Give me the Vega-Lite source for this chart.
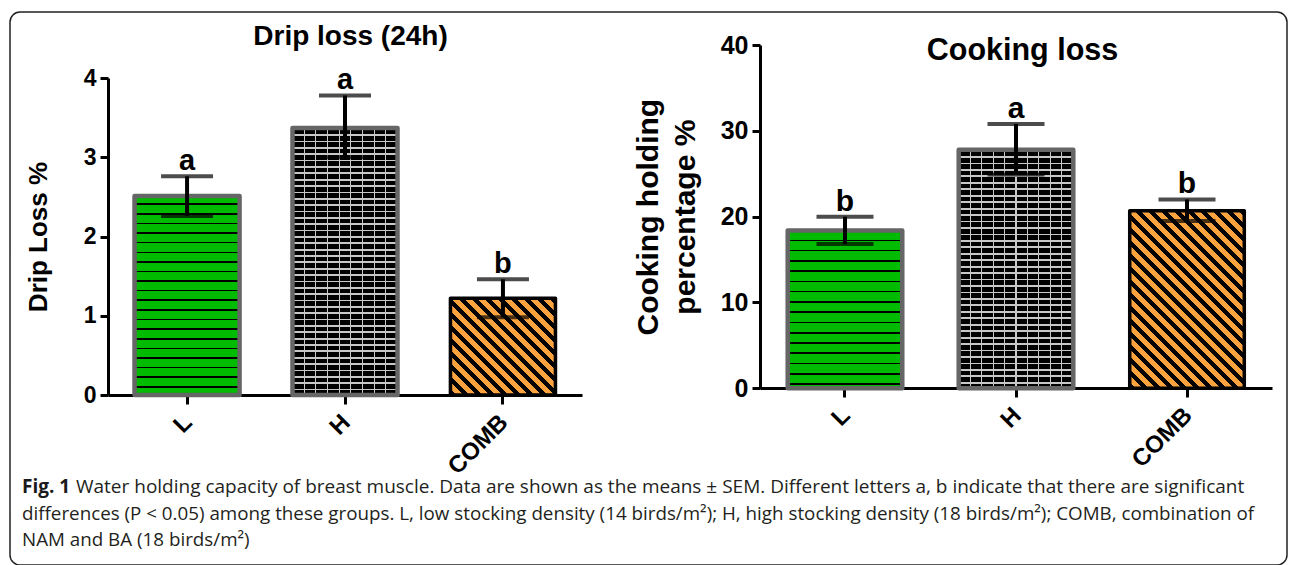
{
  "$schema": "https://vega.github.io/schema/vega-lite/v6.json",
  "width": 1277,
  "height": 553,
  "autosize": {"type": "none"},
  "padding": {"left": 10, "top": 12, "right": 3, "bottom": 0},
  "background": "white",
  "config": {
    "view": {"stroke": "#222", "strokeWidth": 1.5, "cornerRadius": 10},
    "font": "Liberation Sans",
    "axis": {"labelFont": "Liberation Sans", "titleFont": "Liberation Sans", "minExtent": 0}
  },
  "datasets": {
    "drip": [
      {"group": "L", "mean": 2.51, "lower": 2.26, "upper": 2.76, "letter": "a"},
      {"group": "H", "mean": 3.37, "lower": 3.0, "upper": 3.78, "letter": "a"},
      {"group": "COMB", "mean": 1.22, "lower": 0.98, "upper": 1.46, "letter": "b"}
    ],
    "cooking": [
      {"group": "L", "mean": 18.4, "lower": 16.8, "upper": 20.0, "letter": "b"},
      {"group": "H", "mean": 27.8, "lower": 24.9, "upper": 30.8, "letter": "a"},
      {"group": "COMB", "mean": 20.7, "lower": 19.5, "upper": 22.0, "letter": "b"}
    ],
    "caption": [
      {"line": 1, "text": "Water holding capacity of breast muscle. Data are shown as the means ± SEM. Different letters a, b indicate that there are significant"},
      {"line": 2, "text": "differences (P < 0.05) among these groups. L, low stocking density (14 birds/m²); H, high stocking density (18 birds/m²); COMB, combination of"},
      {"line": 3, "text": "NAM and BA (18 birds/m²)"}
    ]
  },
  "resolve": {
    "scale": {"x": "independent", "y": "independent"},
    "axis": {"x": "independent", "y": "independent"}
  },
  "layer": [
    {
      "data": {"name": "drip"},
      "resolve": {"axis": {"x": "independent", "y": "independent"}},
      "layer": [
        {
          "mark": {"type": "bar", "strokeWidth": 0},
          "encoding": {
            "x": {
              "field": "group", "type": "nominal",
              "scale": {"domain": ["L", "H", "COMB"], "range": [98, 572], "paddingInner": 0.335, "paddingOuter": 0.168},
              "axis": {
                "orient": "bottom", "offset": -170, "title": null,
                "domainColor": "#000", "domainWidth": 3, "tickColor": "#000", "tickWidth": 3, "tickSize": 9,
                "labelAngle": -45, "labelAlign": "right", "labelBaseline": "top", "labelPadding": 6, "labelOffset": -7,
                "labelFontSize": 24, "labelFontWeight": "bold", "labelColor": "#000"
              }
            },
            "y": {
              "field": "mean", "type": "quantitative",
              "scale": {"domain": [0, 4], "range": [383, 66], "nice": false, "zero": true},
              "axis": {
                "orient": "left", "offset": -98, "values": [0, 1, 2, 3, 4], "grid": false,
                "domainColor": "#000", "domainWidth": 3, "tickColor": "#000", "tickWidth": 3, "tickSize": 8,
                "labelFontSize": 23, "labelFontWeight": "bold", "labelColor": "#000", "labelPadding": 4,
                "title": "Drip Loss %", "titleFontSize": 26, "titleFontWeight": "bold", "titleColor": "#000", "titlePadding": 32
              }
            },
            "fill": {
              "condition": [
                {"test": "datum.group === 'L'", "value": {"gradient": "linear", "x1": 1, "y1": 0, "x2": 1, "y2": 1, "stops": [
                  {"offset": 0, "color": "#00bb00"},
                  {"offset": 0.0372, "color": "#00bb00"}, {"offset": 0.0372, "color": "#000"}, {"offset": 0.0452, "color": "#000"}, {"offset": 0.0452, "color": "#00bb00"},
                  {"offset": 0.0855, "color": "#00bb00"}, {"offset": 0.0855, "color": "#000"}, {"offset": 0.0935, "color": "#000"}, {"offset": 0.0935, "color": "#00bb00"},
                  {"offset": 0.1338, "color": "#00bb00"}, {"offset": 0.1338, "color": "#000"}, {"offset": 0.1418, "color": "#000"}, {"offset": 0.1418, "color": "#00bb00"},
                  {"offset": 0.1820, "color": "#00bb00"}, {"offset": 0.1820, "color": "#000"}, {"offset": 0.1900, "color": "#000"}, {"offset": 0.1900, "color": "#00bb00"},
                  {"offset": 0.2303, "color": "#00bb00"}, {"offset": 0.2303, "color": "#000"}, {"offset": 0.2383, "color": "#000"}, {"offset": 0.2383, "color": "#00bb00"},
                  {"offset": 0.2786, "color": "#00bb00"}, {"offset": 0.2786, "color": "#000"}, {"offset": 0.2866, "color": "#000"}, {"offset": 0.2866, "color": "#00bb00"},
                  {"offset": 0.3268, "color": "#00bb00"}, {"offset": 0.3268, "color": "#000"}, {"offset": 0.3348, "color": "#000"}, {"offset": 0.3348, "color": "#00bb00"},
                  {"offset": 0.3751, "color": "#00bb00"}, {"offset": 0.3751, "color": "#000"}, {"offset": 0.3831, "color": "#000"}, {"offset": 0.3831, "color": "#00bb00"},
                  {"offset": 0.4234, "color": "#00bb00"}, {"offset": 0.4234, "color": "#000"}, {"offset": 0.4314, "color": "#000"}, {"offset": 0.4314, "color": "#00bb00"},
                  {"offset": 0.4716, "color": "#00bb00"}, {"offset": 0.4716, "color": "#000"}, {"offset": 0.4796, "color": "#000"}, {"offset": 0.4796, "color": "#00bb00"},
                  {"offset": 0.5199, "color": "#00bb00"}, {"offset": 0.5199, "color": "#000"}, {"offset": 0.5279, "color": "#000"}, {"offset": 0.5279, "color": "#00bb00"},
                  {"offset": 0.5682, "color": "#00bb00"}, {"offset": 0.5682, "color": "#000"}, {"offset": 0.5762, "color": "#000"}, {"offset": 0.5762, "color": "#00bb00"},
                  {"offset": 0.6164, "color": "#00bb00"}, {"offset": 0.6164, "color": "#000"}, {"offset": 0.6244, "color": "#000"}, {"offset": 0.6244, "color": "#00bb00"},
                  {"offset": 0.6647, "color": "#00bb00"}, {"offset": 0.6647, "color": "#000"}, {"offset": 0.6727, "color": "#000"}, {"offset": 0.6727, "color": "#00bb00"},
                  {"offset": 0.7130, "color": "#00bb00"}, {"offset": 0.7130, "color": "#000"}, {"offset": 0.7210, "color": "#000"}, {"offset": 0.7210, "color": "#00bb00"},
                  {"offset": 0.7613, "color": "#00bb00"}, {"offset": 0.7613, "color": "#000"}, {"offset": 0.7693, "color": "#000"}, {"offset": 0.7693, "color": "#00bb00"},
                  {"offset": 0.8095, "color": "#00bb00"}, {"offset": 0.8095, "color": "#000"}, {"offset": 0.8175, "color": "#000"}, {"offset": 0.8175, "color": "#00bb00"},
                  {"offset": 0.8578, "color": "#00bb00"}, {"offset": 0.8578, "color": "#000"}, {"offset": 0.8658, "color": "#000"}, {"offset": 0.8658, "color": "#00bb00"},
                  {"offset": 0.9061, "color": "#00bb00"}, {"offset": 0.9061, "color": "#000"}, {"offset": 0.9141, "color": "#000"}, {"offset": 0.9141, "color": "#00bb00"},
                  {"offset": 0.9543, "color": "#00bb00"}, {"offset": 0.9543, "color": "#000"}, {"offset": 0.9623, "color": "#000"}, {"offset": 0.9623, "color": "#00bb00"},
                  {"offset": 1, "color": "#00bb00"}
                ]}},
                {"test": "datum.group === 'H'", "value": {"gradient": "linear", "x1": 1, "y1": 0, "x2": 1, "y2": 1, "stops": [
                  {"offset": 0, "color": "#c8c8c8"}, {"offset": 0.0067, "color": "#c8c8c8"}, {"offset": 0.0067, "color": "#000"}, {"offset": 0.0238, "color": "#000"},
                  {"offset": 0.0238, "color": "#c8c8c8"}, {"offset": 0.0305, "color": "#c8c8c8"}, {"offset": 0.0305, "color": "#000"}, {"offset": 0.0476, "color": "#000"},
                  {"offset": 0.0476, "color": "#c8c8c8"}, {"offset": 0.0543, "color": "#c8c8c8"}, {"offset": 0.0543, "color": "#000"}, {"offset": 0.0714, "color": "#000"},
                  {"offset": 0.0714, "color": "#c8c8c8"}, {"offset": 0.0781, "color": "#c8c8c8"}, {"offset": 0.0781, "color": "#000"}, {"offset": 0.0952, "color": "#000"},
                  {"offset": 0.0952, "color": "#c8c8c8"}, {"offset": 0.1019, "color": "#c8c8c8"}, {"offset": 0.1019, "color": "#000"}, {"offset": 0.1190, "color": "#000"},
                  {"offset": 0.1190, "color": "#c8c8c8"}, {"offset": 0.1257, "color": "#c8c8c8"}, {"offset": 0.1257, "color": "#000"}, {"offset": 0.1429, "color": "#000"},
                  {"offset": 0.1429, "color": "#c8c8c8"}, {"offset": 0.1496, "color": "#c8c8c8"}, {"offset": 0.1496, "color": "#000"}, {"offset": 0.1667, "color": "#000"},
                  {"offset": 0.1667, "color": "#c8c8c8"}, {"offset": 0.1734, "color": "#c8c8c8"}, {"offset": 0.1734, "color": "#000"}, {"offset": 0.1905, "color": "#000"},
                  {"offset": 0.1905, "color": "#c8c8c8"}, {"offset": 0.1972, "color": "#c8c8c8"}, {"offset": 0.1972, "color": "#000"}, {"offset": 0.2143, "color": "#000"},
                  {"offset": 0.2143, "color": "#c8c8c8"}, {"offset": 0.2210, "color": "#c8c8c8"}, {"offset": 0.2210, "color": "#000"}, {"offset": 0.2381, "color": "#000"},
                  {"offset": 0.2381, "color": "#c8c8c8"}, {"offset": 0.2448, "color": "#c8c8c8"}, {"offset": 0.2448, "color": "#000"}, {"offset": 0.2619, "color": "#000"},
                  {"offset": 0.2619, "color": "#c8c8c8"}, {"offset": 0.2686, "color": "#c8c8c8"}, {"offset": 0.2686, "color": "#000"}, {"offset": 0.2857, "color": "#000"},
                  {"offset": 0.2857, "color": "#c8c8c8"}, {"offset": 0.2924, "color": "#c8c8c8"}, {"offset": 0.2924, "color": "#000"}, {"offset": 0.3095, "color": "#000"},
                  {"offset": 0.3095, "color": "#c8c8c8"}, {"offset": 0.3162, "color": "#c8c8c8"}, {"offset": 0.3162, "color": "#000"}, {"offset": 0.3333, "color": "#000"},
                  {"offset": 0.3333, "color": "#c8c8c8"}, {"offset": 0.3400, "color": "#c8c8c8"}, {"offset": 0.3400, "color": "#000"}, {"offset": 0.3571, "color": "#000"},
                  {"offset": 0.3571, "color": "#c8c8c8"}, {"offset": 0.3638, "color": "#c8c8c8"}, {"offset": 0.3638, "color": "#000"}, {"offset": 0.3810, "color": "#000"},
                  {"offset": 0.3810, "color": "#c8c8c8"}, {"offset": 0.3877, "color": "#c8c8c8"}, {"offset": 0.3877, "color": "#000"}, {"offset": 0.4048, "color": "#000"},
                  {"offset": 0.4048, "color": "#c8c8c8"}, {"offset": 0.4115, "color": "#c8c8c8"}, {"offset": 0.4115, "color": "#000"}, {"offset": 0.4286, "color": "#000"},
                  {"offset": 0.4286, "color": "#c8c8c8"}, {"offset": 0.4353, "color": "#c8c8c8"}, {"offset": 0.4353, "color": "#000"}, {"offset": 0.4524, "color": "#000"},
                  {"offset": 0.4524, "color": "#c8c8c8"}, {"offset": 0.4591, "color": "#c8c8c8"}, {"offset": 0.4591, "color": "#000"}, {"offset": 0.4762, "color": "#000"},
                  {"offset": 0.4762, "color": "#c8c8c8"}, {"offset": 0.4829, "color": "#c8c8c8"}, {"offset": 0.4829, "color": "#000"}, {"offset": 0.5000, "color": "#000"},
                  {"offset": 0.5000, "color": "#c8c8c8"}, {"offset": 0.5067, "color": "#c8c8c8"}, {"offset": 0.5067, "color": "#000"}, {"offset": 0.5238, "color": "#000"},
                  {"offset": 0.5238, "color": "#c8c8c8"}, {"offset": 0.5305, "color": "#c8c8c8"}, {"offset": 0.5305, "color": "#000"}, {"offset": 0.5476, "color": "#000"},
                  {"offset": 0.5476, "color": "#c8c8c8"}, {"offset": 0.5543, "color": "#c8c8c8"}, {"offset": 0.5543, "color": "#000"}, {"offset": 0.5714, "color": "#000"},
                  {"offset": 0.5714, "color": "#c8c8c8"}, {"offset": 0.5781, "color": "#c8c8c8"}, {"offset": 0.5781, "color": "#000"}, {"offset": 0.5952, "color": "#000"},
                  {"offset": 0.5952, "color": "#c8c8c8"}, {"offset": 0.6019, "color": "#c8c8c8"}, {"offset": 0.6019, "color": "#000"}, {"offset": 0.6190, "color": "#000"},
                  {"offset": 0.6190, "color": "#c8c8c8"}, {"offset": 0.6257, "color": "#c8c8c8"}, {"offset": 0.6257, "color": "#000"}, {"offset": 0.6429, "color": "#000"},
                  {"offset": 0.6429, "color": "#c8c8c8"}, {"offset": 0.6496, "color": "#c8c8c8"}, {"offset": 0.6496, "color": "#000"}, {"offset": 0.6667, "color": "#000"},
                  {"offset": 0.6667, "color": "#c8c8c8"}, {"offset": 0.6734, "color": "#c8c8c8"}, {"offset": 0.6734, "color": "#000"}, {"offset": 0.6905, "color": "#000"},
                  {"offset": 0.6905, "color": "#c8c8c8"}, {"offset": 0.6972, "color": "#c8c8c8"}, {"offset": 0.6972, "color": "#000"}, {"offset": 0.7143, "color": "#000"},
                  {"offset": 0.7143, "color": "#c8c8c8"}, {"offset": 0.7210, "color": "#c8c8c8"}, {"offset": 0.7210, "color": "#000"}, {"offset": 0.7381, "color": "#000"},
                  {"offset": 0.7381, "color": "#c8c8c8"}, {"offset": 0.7448, "color": "#c8c8c8"}, {"offset": 0.7448, "color": "#000"}, {"offset": 0.7619, "color": "#000"},
                  {"offset": 0.7619, "color": "#c8c8c8"}, {"offset": 0.7686, "color": "#c8c8c8"}, {"offset": 0.7686, "color": "#000"}, {"offset": 0.7857, "color": "#000"},
                  {"offset": 0.7857, "color": "#c8c8c8"}, {"offset": 0.7924, "color": "#c8c8c8"}, {"offset": 0.7924, "color": "#000"}, {"offset": 0.8095, "color": "#000"},
                  {"offset": 0.8095, "color": "#c8c8c8"}, {"offset": 0.8162, "color": "#c8c8c8"}, {"offset": 0.8162, "color": "#000"}, {"offset": 0.8333, "color": "#000"},
                  {"offset": 0.8333, "color": "#c8c8c8"}, {"offset": 0.8400, "color": "#c8c8c8"}, {"offset": 0.8400, "color": "#000"}, {"offset": 0.8571, "color": "#000"},
                  {"offset": 0.8571, "color": "#c8c8c8"}, {"offset": 0.8638, "color": "#c8c8c8"}, {"offset": 0.8638, "color": "#000"}, {"offset": 0.8810, "color": "#000"},
                  {"offset": 0.8810, "color": "#c8c8c8"}, {"offset": 0.8877, "color": "#c8c8c8"}, {"offset": 0.8877, "color": "#000"}, {"offset": 0.9048, "color": "#000"},
                  {"offset": 0.9048, "color": "#c8c8c8"}, {"offset": 0.9115, "color": "#c8c8c8"}, {"offset": 0.9115, "color": "#000"}, {"offset": 0.9286, "color": "#000"},
                  {"offset": 0.9286, "color": "#c8c8c8"}, {"offset": 0.9353, "color": "#c8c8c8"}, {"offset": 0.9353, "color": "#000"}, {"offset": 0.9524, "color": "#000"},
                  {"offset": 0.9524, "color": "#c8c8c8"}, {"offset": 0.9591, "color": "#c8c8c8"}, {"offset": 0.9591, "color": "#000"}, {"offset": 0.9762, "color": "#000"},
                  {"offset": 0.9762, "color": "#c8c8c8"}, {"offset": 0.9829, "color": "#c8c8c8"}, {"offset": 0.9829, "color": "#000"}, {"offset": 1, "color": "#000"}
                ]}}
              ],
              "value": {"gradient": "linear", "x1": 0, "y1": 1, "x2": 1.0396, "y2": 0.043, "stops": [
                {"offset": 0, "color": "#000"}, {"offset": 0.029, "color": "#000"}, {"offset": 0.029, "color": "#f9a23e"}, {"offset": 0.0645, "color": "#f9a23e"},
                {"offset": 0.0645, "color": "#000"}, {"offset": 0.0935, "color": "#000"}, {"offset": 0.0935, "color": "#f9a23e"}, {"offset": 0.129, "color": "#f9a23e"},
                {"offset": 0.129, "color": "#000"}, {"offset": 0.158, "color": "#000"}, {"offset": 0.158, "color": "#f9a23e"}, {"offset": 0.1935, "color": "#f9a23e"},
                {"offset": 0.1935, "color": "#000"}, {"offset": 0.2225, "color": "#000"}, {"offset": 0.2225, "color": "#f9a23e"}, {"offset": 0.258, "color": "#f9a23e"},
                {"offset": 0.258, "color": "#000"}, {"offset": 0.287, "color": "#000"}, {"offset": 0.287, "color": "#f9a23e"}, {"offset": 0.3225, "color": "#f9a23e"},
                {"offset": 0.3225, "color": "#000"}, {"offset": 0.3515, "color": "#000"}, {"offset": 0.3515, "color": "#f9a23e"}, {"offset": 0.387, "color": "#f9a23e"},
                {"offset": 0.387, "color": "#000"}, {"offset": 0.416, "color": "#000"}, {"offset": 0.416, "color": "#f9a23e"}, {"offset": 0.4515, "color": "#f9a23e"},
                {"offset": 0.4515, "color": "#000"}, {"offset": 0.4805, "color": "#000"}, {"offset": 0.4805, "color": "#f9a23e"}, {"offset": 0.516, "color": "#f9a23e"},
                {"offset": 0.516, "color": "#000"}, {"offset": 0.545, "color": "#000"}, {"offset": 0.545, "color": "#f9a23e"}, {"offset": 0.5805, "color": "#f9a23e"},
                {"offset": 0.5805, "color": "#000"}, {"offset": 0.6095, "color": "#000"}, {"offset": 0.6095, "color": "#f9a23e"}, {"offset": 0.645, "color": "#f9a23e"},
                {"offset": 0.645, "color": "#000"}, {"offset": 0.674, "color": "#000"}, {"offset": 0.674, "color": "#f9a23e"}, {"offset": 0.7095, "color": "#f9a23e"},
                {"offset": 0.7095, "color": "#000"}, {"offset": 0.7385, "color": "#000"}, {"offset": 0.7385, "color": "#f9a23e"}, {"offset": 0.774, "color": "#f9a23e"},
                {"offset": 0.774, "color": "#000"}, {"offset": 0.803, "color": "#000"}, {"offset": 0.803, "color": "#f9a23e"}, {"offset": 0.8385, "color": "#f9a23e"},
                {"offset": 0.8385, "color": "#000"}, {"offset": 0.8675, "color": "#000"}, {"offset": 0.8675, "color": "#f9a23e"}, {"offset": 0.903, "color": "#f9a23e"},
                {"offset": 0.903, "color": "#000"}, {"offset": 0.932, "color": "#000"}, {"offset": 0.932, "color": "#f9a23e"}, {"offset": 0.9675, "color": "#f9a23e"},
                {"offset": 0.9675, "color": "#000"}, {"offset": 0.9965, "color": "#000"}, {"offset": 0.9965, "color": "#f9a23e"}, {"offset": 1, "color": "#f9a23e"}
              ]}
            }
          }
        },
        {
          "transform": [{"filter": "datum.group === 'H'"}],
          "mark": {"type": "bar", "strokeWidth": 0, "fill": {"gradient": "linear", "x1": 0, "y1": 0, "x2": 1, "y2": 0, "stops": [
            {"offset": 0, "color": "rgba(200,200,200,0)"},
            {"offset": 0.1059, "color": "rgba(200,200,200,0)"}, {"offset": 0.1059, "color": "#c8c8c8"}, {"offset": 0.1163, "color": "#c8c8c8"}, {"offset": 0.1163, "color": "rgba(200,200,200,0)"},
            {"offset": 0.2170, "color": "rgba(200,200,200,0)"}, {"offset": 0.2170, "color": "#c8c8c8"}, {"offset": 0.2274, "color": "#c8c8c8"}, {"offset": 0.2274, "color": "rgba(200,200,200,0)"},
            {"offset": 0.3281, "color": "rgba(200,200,200,0)"}, {"offset": 0.3281, "color": "#c8c8c8"}, {"offset": 0.3385, "color": "#c8c8c8"}, {"offset": 0.3385, "color": "rgba(200,200,200,0)"},
            {"offset": 0.4392, "color": "rgba(200,200,200,0)"}, {"offset": 0.4392, "color": "#c8c8c8"}, {"offset": 0.4496, "color": "#c8c8c8"}, {"offset": 0.4496, "color": "rgba(200,200,200,0)"},
            {"offset": 0.5504, "color": "rgba(200,200,200,0)"}, {"offset": 0.5504, "color": "#c8c8c8"}, {"offset": 0.5608, "color": "#c8c8c8"}, {"offset": 0.5608, "color": "rgba(200,200,200,0)"},
            {"offset": 0.6615, "color": "rgba(200,200,200,0)"}, {"offset": 0.6615, "color": "#c8c8c8"}, {"offset": 0.6719, "color": "#c8c8c8"}, {"offset": 0.6719, "color": "rgba(200,200,200,0)"},
            {"offset": 0.7726, "color": "rgba(200,200,200,0)"}, {"offset": 0.7726, "color": "#c8c8c8"}, {"offset": 0.7830, "color": "#c8c8c8"}, {"offset": 0.7830, "color": "rgba(200,200,200,0)"},
            {"offset": 0.8837, "color": "rgba(200,200,200,0)"}, {"offset": 0.8837, "color": "#c8c8c8"}, {"offset": 0.8941, "color": "#c8c8c8"}, {"offset": 0.8941, "color": "rgba(200,200,200,0)"},
            {"offset": 1, "color": "rgba(200,200,200,0)"}
          ]}},
          "encoding": {
            "x": {"field": "group", "type": "nominal", "scale": {"domain": ["L", "H", "COMB"], "range": [98, 572], "paddingInner": 0.335, "paddingOuter": 0.168}, "axis": null},
            "y": {"field": "mean", "type": "quantitative", "scale": {"domain": [0, 4], "range": [383, 66], "nice": false, "zero": true}, "axis": null}
          }
        },
        {
          "mark": {"type": "bar", "fill": "transparent", "strokeJoin": "round"},
          "encoding": {
            "x": {"field": "group", "type": "nominal", "scale": {"domain": ["L", "H", "COMB"], "range": [98, 572], "paddingInner": 0.335, "paddingOuter": 0.168}, "axis": null},
            "y": {"field": "mean", "type": "quantitative", "scale": {"domain": [0, 4], "range": [383, 66], "nice": false, "zero": true}, "axis": null},
            "stroke": {"condition": {"test": "datum.group === 'COMB'", "value": "#000"}, "value": "#666"},
            "strokeWidth": {"condition": {"test": "datum.group === 'COMB'", "value": 3.5}, "value": 4.5}
          }
        },
        {
          "mark": {"type": "errorbar", "color": "#000", "ticks": {"size": 52, "thickness": 4, "color": "#000"}, "rule": {"strokeWidth": 4, "color": "#000"}},
          "encoding": {
            "x": {"field": "group", "type": "nominal", "scale": {"domain": ["L", "H", "COMB"], "range": [98, 572], "paddingInner": 0.335, "paddingOuter": 0.168}, "axis": null},
            "y": {"field": "lower", "type": "quantitative", "scale": {"domain": [0, 4], "range": [383, 66], "nice": false, "zero": true}, "axis": null},
            "y2": {"field": "upper"}
          }
        },
        {
          "mark": {"type": "text", "fontSize": 29, "fontWeight": "bold", "baseline": "alphabetic", "dy": -6, "color": "#000"},
          "encoding": {
            "x": {
              "field": "group", "type": "nominal",
              "scale": {"domain": ["L", "H", "COMB"], "range": [98, 572], "paddingInner": 0.335, "paddingOuter": 0.168},
              "axis": {"orient": "top", "offset": -38, "labels": false, "ticks": false, "domain": false, "grid": false,
                       "title": "Drip loss (24h)", "titleX": 340, "titleFontSize": 28, "titleFontWeight": "bold", "titleColor": "#000", "titlePadding": 0}
            },
            "y": {"field": "upper", "type": "quantitative", "scale": {"domain": [0, 4], "range": [383, 66], "nice": false, "zero": true}, "axis": null},
            "text": {"field": "letter"}
          }
        }
      ]
    },
    {
      "data": {"name": "cooking"},
      "resolve": {"axis": {"x": "independent", "y": "independent"}},
      "layer": [
        {
          "mark": {"type": "bar", "strokeWidth": 0},
          "encoding": {
            "x": {
              "field": "group", "type": "nominal",
              "scale": {"domain": ["L", "H", "COMB"], "range": [750, 1262], "paddingInner": 0.33, "paddingOuter": 0.162},
              "axis": {
                "orient": "bottom", "offset": -177, "title": null,
                "domainColor": "#000", "domainWidth": 3, "tickColor": "#000", "tickWidth": 3, "tickSize": 9,
                "labelAngle": -45, "labelAlign": "right", "labelBaseline": "top", "labelPadding": 6, "labelOffset": -7,
                "labelFontSize": 24, "labelFontWeight": "bold", "labelColor": "#000"
              }
            },
            "y": {
              "field": "mean", "type": "quantitative",
              "scale": {"domain": [0, 40], "range": [376.3, 33], "nice": false, "zero": true},
              "axis": {
                "orient": "left", "offset": -750, "values": [0, 10, 20, 30, 40], "grid": false,
                "domainColor": "#000", "domainWidth": 3, "tickColor": "#000", "tickWidth": 3, "tickSize": 8,
                "labelFontSize": 25, "labelFontWeight": "bold", "labelColor": "#000", "labelPadding": 4,
                "title": ["Cooking holding", "percentage %"], "titleFontSize": 30, "titleFontWeight": "bold", "titleColor": "#000",
                "titlePadding": 20, "titleLineHeight": 37
              }
            },
            "fill": {
              "condition": [
                {"test": "datum.group === 'L'", "value": {"gradient": "linear", "x1": 1, "y1": 0, "x2": 1, "y2": 1, "stops": [
                  {"offset": 0, "color": "#00bb00"},
                  {"offset": 0.0583, "color": "#00bb00"}, {"offset": 0.0583, "color": "#000"}, {"offset": 0.0685, "color": "#000"}, {"offset": 0.0685, "color": "#00bb00"},
                  {"offset": 0.1232, "color": "#00bb00"}, {"offset": 0.1232, "color": "#000"}, {"offset": 0.1334, "color": "#000"}, {"offset": 0.1334, "color": "#00bb00"},
                  {"offset": 0.1882, "color": "#00bb00"}, {"offset": 0.1882, "color": "#000"}, {"offset": 0.1984, "color": "#000"}, {"offset": 0.1984, "color": "#00bb00"},
                  {"offset": 0.2531, "color": "#00bb00"}, {"offset": 0.2531, "color": "#000"}, {"offset": 0.2633, "color": "#000"}, {"offset": 0.2633, "color": "#00bb00"},
                  {"offset": 0.3181, "color": "#00bb00"}, {"offset": 0.3181, "color": "#000"}, {"offset": 0.3283, "color": "#000"}, {"offset": 0.3283, "color": "#00bb00"},
                  {"offset": 0.3830, "color": "#00bb00"}, {"offset": 0.3830, "color": "#000"}, {"offset": 0.3932, "color": "#000"}, {"offset": 0.3932, "color": "#00bb00"},
                  {"offset": 0.4480, "color": "#00bb00"}, {"offset": 0.4480, "color": "#000"}, {"offset": 0.4582, "color": "#000"}, {"offset": 0.4582, "color": "#00bb00"},
                  {"offset": 0.5130, "color": "#00bb00"}, {"offset": 0.5130, "color": "#000"}, {"offset": 0.5232, "color": "#000"}, {"offset": 0.5232, "color": "#00bb00"},
                  {"offset": 0.5779, "color": "#00bb00"}, {"offset": 0.5779, "color": "#000"}, {"offset": 0.5881, "color": "#000"}, {"offset": 0.5881, "color": "#00bb00"},
                  {"offset": 0.6429, "color": "#00bb00"}, {"offset": 0.6429, "color": "#000"}, {"offset": 0.6531, "color": "#000"}, {"offset": 0.6531, "color": "#00bb00"},
                  {"offset": 0.7078, "color": "#00bb00"}, {"offset": 0.7078, "color": "#000"}, {"offset": 0.7180, "color": "#000"}, {"offset": 0.7180, "color": "#00bb00"},
                  {"offset": 0.7728, "color": "#00bb00"}, {"offset": 0.7728, "color": "#000"}, {"offset": 0.7830, "color": "#000"}, {"offset": 0.7830, "color": "#00bb00"},
                  {"offset": 0.8377, "color": "#00bb00"}, {"offset": 0.8377, "color": "#000"}, {"offset": 0.8479, "color": "#000"}, {"offset": 0.8479, "color": "#00bb00"},
                  {"offset": 0.9027, "color": "#00bb00"}, {"offset": 0.9027, "color": "#000"}, {"offset": 0.9129, "color": "#000"}, {"offset": 0.9129, "color": "#00bb00"},
                  {"offset": 0.9676, "color": "#00bb00"}, {"offset": 0.9676, "color": "#000"}, {"offset": 0.9778, "color": "#000"}, {"offset": 0.9778, "color": "#00bb00"},
                  {"offset": 1, "color": "#00bb00"}
                ]}},
                {"test": "datum.group === 'H'", "value": {"gradient": "linear", "x1": 1, "y1": 0, "x2": 1, "y2": 1, "stops": [
                  {"offset": 0, "color": "#c8c8c8"}, {"offset": 0.0075, "color": "#c8c8c8"}, {"offset": 0.0075, "color": "#000"}, {"offset": 0.0270, "color": "#000"},
                  {"offset": 0.0270, "color": "#c8c8c8"}, {"offset": 0.0345, "color": "#c8c8c8"}, {"offset": 0.0345, "color": "#000"}, {"offset": 0.0541, "color": "#000"},
                  {"offset": 0.0541, "color": "#c8c8c8"}, {"offset": 0.0616, "color": "#c8c8c8"}, {"offset": 0.0616, "color": "#000"}, {"offset": 0.0811, "color": "#000"},
                  {"offset": 0.0811, "color": "#c8c8c8"}, {"offset": 0.0886, "color": "#c8c8c8"}, {"offset": 0.0886, "color": "#000"}, {"offset": 0.1081, "color": "#000"},
                  {"offset": 0.1081, "color": "#c8c8c8"}, {"offset": 0.1156, "color": "#c8c8c8"}, {"offset": 0.1156, "color": "#000"}, {"offset": 0.1351, "color": "#000"},
                  {"offset": 0.1351, "color": "#c8c8c8"}, {"offset": 0.1426, "color": "#c8c8c8"}, {"offset": 0.1426, "color": "#000"}, {"offset": 0.1622, "color": "#000"},
                  {"offset": 0.1622, "color": "#c8c8c8"}, {"offset": 0.1697, "color": "#c8c8c8"}, {"offset": 0.1697, "color": "#000"}, {"offset": 0.1892, "color": "#000"},
                  {"offset": 0.1892, "color": "#c8c8c8"}, {"offset": 0.1967, "color": "#c8c8c8"}, {"offset": 0.1967, "color": "#000"}, {"offset": 0.2162, "color": "#000"},
                  {"offset": 0.2162, "color": "#c8c8c8"}, {"offset": 0.2237, "color": "#c8c8c8"}, {"offset": 0.2237, "color": "#000"}, {"offset": 0.2432, "color": "#000"},
                  {"offset": 0.2432, "color": "#c8c8c8"}, {"offset": 0.2507, "color": "#c8c8c8"}, {"offset": 0.2507, "color": "#000"}, {"offset": 0.2703, "color": "#000"},
                  {"offset": 0.2703, "color": "#c8c8c8"}, {"offset": 0.2778, "color": "#c8c8c8"}, {"offset": 0.2778, "color": "#000"}, {"offset": 0.2973, "color": "#000"},
                  {"offset": 0.2973, "color": "#c8c8c8"}, {"offset": 0.3048, "color": "#c8c8c8"}, {"offset": 0.3048, "color": "#000"}, {"offset": 0.3243, "color": "#000"},
                  {"offset": 0.3243, "color": "#c8c8c8"}, {"offset": 0.3318, "color": "#c8c8c8"}, {"offset": 0.3318, "color": "#000"}, {"offset": 0.3514, "color": "#000"},
                  {"offset": 0.3514, "color": "#c8c8c8"}, {"offset": 0.3589, "color": "#c8c8c8"}, {"offset": 0.3589, "color": "#000"}, {"offset": 0.3784, "color": "#000"},
                  {"offset": 0.3784, "color": "#c8c8c8"}, {"offset": 0.3859, "color": "#c8c8c8"}, {"offset": 0.3859, "color": "#000"}, {"offset": 0.4054, "color": "#000"},
                  {"offset": 0.4054, "color": "#c8c8c8"}, {"offset": 0.4129, "color": "#c8c8c8"}, {"offset": 0.4129, "color": "#000"}, {"offset": 0.4324, "color": "#000"},
                  {"offset": 0.4324, "color": "#c8c8c8"}, {"offset": 0.4399, "color": "#c8c8c8"}, {"offset": 0.4399, "color": "#000"}, {"offset": 0.4595, "color": "#000"},
                  {"offset": 0.4595, "color": "#c8c8c8"}, {"offset": 0.4670, "color": "#c8c8c8"}, {"offset": 0.4670, "color": "#000"}, {"offset": 0.4865, "color": "#000"},
                  {"offset": 0.4865, "color": "#c8c8c8"}, {"offset": 0.4940, "color": "#c8c8c8"}, {"offset": 0.4940, "color": "#000"}, {"offset": 0.5135, "color": "#000"},
                  {"offset": 0.5135, "color": "#c8c8c8"}, {"offset": 0.5210, "color": "#c8c8c8"}, {"offset": 0.5210, "color": "#000"}, {"offset": 0.5405, "color": "#000"},
                  {"offset": 0.5405, "color": "#c8c8c8"}, {"offset": 0.5480, "color": "#c8c8c8"}, {"offset": 0.5480, "color": "#000"}, {"offset": 0.5676, "color": "#000"},
                  {"offset": 0.5676, "color": "#c8c8c8"}, {"offset": 0.5751, "color": "#c8c8c8"}, {"offset": 0.5751, "color": "#000"}, {"offset": 0.5946, "color": "#000"},
                  {"offset": 0.5946, "color": "#c8c8c8"}, {"offset": 0.6021, "color": "#c8c8c8"}, {"offset": 0.6021, "color": "#000"}, {"offset": 0.6216, "color": "#000"},
                  {"offset": 0.6216, "color": "#c8c8c8"}, {"offset": 0.6291, "color": "#c8c8c8"}, {"offset": 0.6291, "color": "#000"}, {"offset": 0.6486, "color": "#000"},
                  {"offset": 0.6486, "color": "#c8c8c8"}, {"offset": 0.6561, "color": "#c8c8c8"}, {"offset": 0.6561, "color": "#000"}, {"offset": 0.6757, "color": "#000"},
                  {"offset": 0.6757, "color": "#c8c8c8"}, {"offset": 0.6832, "color": "#c8c8c8"}, {"offset": 0.6832, "color": "#000"}, {"offset": 0.7027, "color": "#000"},
                  {"offset": 0.7027, "color": "#c8c8c8"}, {"offset": 0.7102, "color": "#c8c8c8"}, {"offset": 0.7102, "color": "#000"}, {"offset": 0.7297, "color": "#000"},
                  {"offset": 0.7297, "color": "#c8c8c8"}, {"offset": 0.7372, "color": "#c8c8c8"}, {"offset": 0.7372, "color": "#000"}, {"offset": 0.7568, "color": "#000"},
                  {"offset": 0.7568, "color": "#c8c8c8"}, {"offset": 0.7643, "color": "#c8c8c8"}, {"offset": 0.7643, "color": "#000"}, {"offset": 0.7838, "color": "#000"},
                  {"offset": 0.7838, "color": "#c8c8c8"}, {"offset": 0.7913, "color": "#c8c8c8"}, {"offset": 0.7913, "color": "#000"}, {"offset": 0.8108, "color": "#000"},
                  {"offset": 0.8108, "color": "#c8c8c8"}, {"offset": 0.8183, "color": "#c8c8c8"}, {"offset": 0.8183, "color": "#000"}, {"offset": 0.8378, "color": "#000"},
                  {"offset": 0.8378, "color": "#c8c8c8"}, {"offset": 0.8453, "color": "#c8c8c8"}, {"offset": 0.8453, "color": "#000"}, {"offset": 0.8649, "color": "#000"},
                  {"offset": 0.8649, "color": "#c8c8c8"}, {"offset": 0.8724, "color": "#c8c8c8"}, {"offset": 0.8724, "color": "#000"}, {"offset": 0.8919, "color": "#000"},
                  {"offset": 0.8919, "color": "#c8c8c8"}, {"offset": 0.8994, "color": "#c8c8c8"}, {"offset": 0.8994, "color": "#000"}, {"offset": 0.9189, "color": "#000"},
                  {"offset": 0.9189, "color": "#c8c8c8"}, {"offset": 0.9264, "color": "#c8c8c8"}, {"offset": 0.9264, "color": "#000"}, {"offset": 0.9459, "color": "#000"},
                  {"offset": 0.9459, "color": "#c8c8c8"}, {"offset": 0.9534, "color": "#c8c8c8"}, {"offset": 0.9534, "color": "#000"}, {"offset": 0.9730, "color": "#000"},
                  {"offset": 0.9730, "color": "#c8c8c8"}, {"offset": 0.9805, "color": "#c8c8c8"}, {"offset": 0.9805, "color": "#000"}, {"offset": 1, "color": "#000"}
                ]}}
              ],
              "value": {"gradient": "linear", "x1": 0, "y1": 1, "x2": 0.75, "y2": -0.16, "stops": [
                {"offset": 0, "color": "#000"}, {"offset": 0.02, "color": "#000"}, {"offset": 0.02, "color": "#f9a23e"}, {"offset": 0.0446, "color": "#f9a23e"},
                {"offset": 0.0446, "color": "#000"}, {"offset": 0.0646, "color": "#000"}, {"offset": 0.0646, "color": "#f9a23e"}, {"offset": 0.0892, "color": "#f9a23e"},
                {"offset": 0.0892, "color": "#000"}, {"offset": 0.1092, "color": "#000"}, {"offset": 0.1092, "color": "#f9a23e"}, {"offset": 0.1338, "color": "#f9a23e"},
                {"offset": 0.1338, "color": "#000"}, {"offset": 0.1538, "color": "#000"}, {"offset": 0.1538, "color": "#f9a23e"}, {"offset": 0.1784, "color": "#f9a23e"},
                {"offset": 0.1784, "color": "#000"}, {"offset": 0.1984, "color": "#000"}, {"offset": 0.1984, "color": "#f9a23e"}, {"offset": 0.223, "color": "#f9a23e"},
                {"offset": 0.223, "color": "#000"}, {"offset": 0.243, "color": "#000"}, {"offset": 0.243, "color": "#f9a23e"}, {"offset": 0.2676, "color": "#f9a23e"},
                {"offset": 0.2676, "color": "#000"}, {"offset": 0.2876, "color": "#000"}, {"offset": 0.2876, "color": "#f9a23e"}, {"offset": 0.3122, "color": "#f9a23e"},
                {"offset": 0.3122, "color": "#000"}, {"offset": 0.3322, "color": "#000"}, {"offset": 0.3322, "color": "#f9a23e"}, {"offset": 0.3568, "color": "#f9a23e"},
                {"offset": 0.3568, "color": "#000"}, {"offset": 0.3768, "color": "#000"}, {"offset": 0.3768, "color": "#f9a23e"}, {"offset": 0.4014, "color": "#f9a23e"},
                {"offset": 0.4014, "color": "#000"}, {"offset": 0.4214, "color": "#000"}, {"offset": 0.4214, "color": "#f9a23e"}, {"offset": 0.446, "color": "#f9a23e"},
                {"offset": 0.446, "color": "#000"}, {"offset": 0.466, "color": "#000"}, {"offset": 0.466, "color": "#f9a23e"}, {"offset": 0.4906, "color": "#f9a23e"},
                {"offset": 0.4906, "color": "#000"}, {"offset": 0.5106, "color": "#000"}, {"offset": 0.5106, "color": "#f9a23e"}, {"offset": 0.5352, "color": "#f9a23e"},
                {"offset": 0.5352, "color": "#000"}, {"offset": 0.5552, "color": "#000"}, {"offset": 0.5552, "color": "#f9a23e"}, {"offset": 0.5798, "color": "#f9a23e"},
                {"offset": 0.5798, "color": "#000"}, {"offset": 0.5998, "color": "#000"}, {"offset": 0.5998, "color": "#f9a23e"}, {"offset": 0.6244, "color": "#f9a23e"},
                {"offset": 0.6244, "color": "#000"}, {"offset": 0.6444, "color": "#000"}, {"offset": 0.6444, "color": "#f9a23e"}, {"offset": 0.669, "color": "#f9a23e"},
                {"offset": 0.669, "color": "#000"}, {"offset": 0.689, "color": "#000"}, {"offset": 0.689, "color": "#f9a23e"}, {"offset": 0.7136, "color": "#f9a23e"},
                {"offset": 0.7136, "color": "#000"}, {"offset": 0.7336, "color": "#000"}, {"offset": 0.7336, "color": "#f9a23e"}, {"offset": 0.7582, "color": "#f9a23e"},
                {"offset": 0.7582, "color": "#000"}, {"offset": 0.7782, "color": "#000"}, {"offset": 0.7782, "color": "#f9a23e"}, {"offset": 0.8028, "color": "#f9a23e"},
                {"offset": 0.8028, "color": "#000"}, {"offset": 0.8228, "color": "#000"}, {"offset": 0.8228, "color": "#f9a23e"}, {"offset": 0.8474, "color": "#f9a23e"},
                {"offset": 0.8474, "color": "#000"}, {"offset": 0.8674, "color": "#000"}, {"offset": 0.8674, "color": "#f9a23e"}, {"offset": 0.892, "color": "#f9a23e"},
                {"offset": 0.892, "color": "#000"}, {"offset": 0.912, "color": "#000"}, {"offset": 0.912, "color": "#f9a23e"}, {"offset": 0.9366, "color": "#f9a23e"},
                {"offset": 0.9366, "color": "#000"}, {"offset": 0.9566, "color": "#000"}, {"offset": 0.9566, "color": "#f9a23e"}, {"offset": 0.9812, "color": "#f9a23e"},
                {"offset": 0.9812, "color": "#000"}, {"offset": 1, "color": "#000"}
              ]}
            }
          }
        },
        {
          "transform": [{"filter": "datum.group === 'H'"}],
          "mark": {"type": "bar", "strokeWidth": 0, "fill": {"gradient": "linear", "x1": 0, "y1": 0, "x2": 1, "y2": 0, "stops": [
            {"offset": 0, "color": "rgba(200,200,200,0)"},
            {"offset": 0.0952, "color": "rgba(200,200,200,0)"}, {"offset": 0.0952, "color": "#c8c8c8"}, {"offset": 0.1048, "color": "#c8c8c8"}, {"offset": 0.1048, "color": "rgba(200,200,200,0)"},
            {"offset": 0.1952, "color": "rgba(200,200,200,0)"}, {"offset": 0.1952, "color": "#c8c8c8"}, {"offset": 0.2048, "color": "#c8c8c8"}, {"offset": 0.2048, "color": "rgba(200,200,200,0)"},
            {"offset": 0.2952, "color": "rgba(200,200,200,0)"}, {"offset": 0.2952, "color": "#c8c8c8"}, {"offset": 0.3048, "color": "#c8c8c8"}, {"offset": 0.3048, "color": "rgba(200,200,200,0)"},
            {"offset": 0.3952, "color": "rgba(200,200,200,0)"}, {"offset": 0.3952, "color": "#c8c8c8"}, {"offset": 0.4048, "color": "#c8c8c8"}, {"offset": 0.4048, "color": "rgba(200,200,200,0)"},
            {"offset": 0.4952, "color": "rgba(200,200,200,0)"}, {"offset": 0.4952, "color": "#c8c8c8"}, {"offset": 0.5048, "color": "#c8c8c8"}, {"offset": 0.5048, "color": "rgba(200,200,200,0)"},
            {"offset": 0.5952, "color": "rgba(200,200,200,0)"}, {"offset": 0.5952, "color": "#c8c8c8"}, {"offset": 0.6048, "color": "#c8c8c8"}, {"offset": 0.6048, "color": "rgba(200,200,200,0)"},
            {"offset": 0.6952, "color": "rgba(200,200,200,0)"}, {"offset": 0.6952, "color": "#c8c8c8"}, {"offset": 0.7048, "color": "#c8c8c8"}, {"offset": 0.7048, "color": "rgba(200,200,200,0)"},
            {"offset": 0.7952, "color": "rgba(200,200,200,0)"}, {"offset": 0.7952, "color": "#c8c8c8"}, {"offset": 0.8048, "color": "#c8c8c8"}, {"offset": 0.8048, "color": "rgba(200,200,200,0)"},
            {"offset": 0.8952, "color": "rgba(200,200,200,0)"}, {"offset": 0.8952, "color": "#c8c8c8"}, {"offset": 0.9048, "color": "#c8c8c8"}, {"offset": 0.9048, "color": "rgba(200,200,200,0)"},
            {"offset": 1, "color": "rgba(200,200,200,0)"}
          ]}},
          "encoding": {
            "x": {"field": "group", "type": "nominal", "scale": {"domain": ["L", "H", "COMB"], "range": [750, 1262], "paddingInner": 0.33, "paddingOuter": 0.162}, "axis": null},
            "y": {"field": "mean", "type": "quantitative", "scale": {"domain": [0, 40], "range": [376.3, 33], "nice": false, "zero": true}, "axis": null}
          }
        },
        {
          "mark": {"type": "bar", "fill": "transparent", "strokeJoin": "round"},
          "encoding": {
            "x": {"field": "group", "type": "nominal", "scale": {"domain": ["L", "H", "COMB"], "range": [750, 1262], "paddingInner": 0.33, "paddingOuter": 0.162}, "axis": null},
            "y": {"field": "mean", "type": "quantitative", "scale": {"domain": [0, 40], "range": [376.3, 33], "nice": false, "zero": true}, "axis": null},
            "stroke": {"condition": {"test": "datum.group === 'COMB'", "value": "#000"}, "value": "#666"},
            "strokeWidth": {"condition": {"test": "datum.group === 'COMB'", "value": 3.5}, "value": 4.5}
          }
        },
        {
          "mark": {"type": "errorbar", "color": "#000", "ticks": {"size": 57, "thickness": 4, "color": "#000"}, "rule": {"strokeWidth": 4, "color": "#000"}},
          "encoding": {
            "x": {"field": "group", "type": "nominal", "scale": {"domain": ["L", "H", "COMB"], "range": [750, 1262], "paddingInner": 0.33, "paddingOuter": 0.162}, "axis": null},
            "y": {"field": "lower", "type": "quantitative", "scale": {"domain": [0, 40], "range": [376.3, 33], "nice": false, "zero": true}, "axis": null},
            "y2": {"field": "upper"}
          }
        },
        {
          "mark": {"type": "text", "fontSize": 30, "fontWeight": "bold", "baseline": "alphabetic", "dy": -6, "color": "#000"},
          "encoding": {
            "x": {
              "field": "group", "type": "nominal",
              "scale": {"domain": ["L", "H", "COMB"], "range": [750, 1262], "paddingInner": 0.33, "paddingOuter": 0.162},
              "axis": {"orient": "top", "offset": -53, "labels": false, "ticks": false, "domain": false, "grid": false,
                       "title": "Cooking loss", "titleX": 1012, "titleFontSize": 30.5, "titleFontWeight": "bold", "titleColor": "#000", "titlePadding": 0}
            },
            "y": {"field": "upper", "type": "quantitative", "scale": {"domain": [0, 40], "range": [376.3, 33], "nice": false, "zero": true}, "axis": null},
            "text": {"field": "letter"}
          }
        }
      ]
    },
    {
      "data": {"name": "caption"},
      "layer": [
        {
          "transform": [{"filter": "datum.line === 1"}],
          "mark": {"type": "text", "text": "Fig. 1", "align": "left", "baseline": "middle", "font": "Open Sans", "fontSize": 19, "fontWeight": "bold", "color": "#1a1a1a"},
          "encoding": {
            "x": {"value": 12},
            "y": {"field": "line", "type": "ordinal", "scale": {"type": "point", "domain": [1, 2, 3], "range": [475, 528], "padding": 0}, "axis": null}
          }
        },
        {
          "transform": [{"filter": "datum.line === 1"}],
          "mark": {"type": "text", "align": "left", "baseline": "middle", "font": "Open Sans", "fontSize": 19, "color": "#231f20"},
          "encoding": {
            "x": {"value": 66},
            "y": {"field": "line", "type": "ordinal", "scale": {"type": "point", "domain": [1, 2, 3], "range": [475, 528], "padding": 0}, "axis": null},
            "text": {"field": "text"}
          }
        },
        {
          "transform": [{"filter": "datum.line > 1"}],
          "mark": {"type": "text", "align": "left", "baseline": "middle", "font": "Open Sans", "fontSize": 18.8, "color": "#231f20"},
          "encoding": {
            "x": {"value": 12},
            "y": {"field": "line", "type": "ordinal", "scale": {"type": "point", "domain": [1, 2, 3], "range": [475, 528], "padding": 0}, "axis": null},
            "text": {"field": "text"}
          }
        }
      ]
    }
  ]
}
